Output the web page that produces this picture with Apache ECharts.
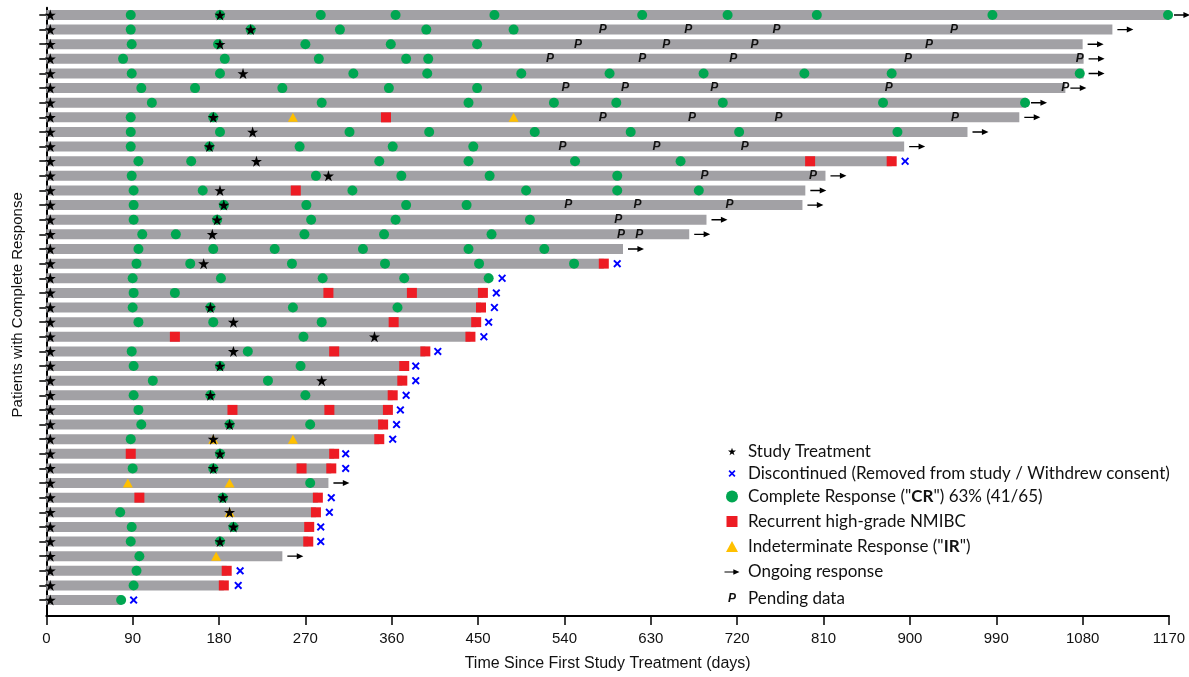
<!DOCTYPE html>
<html>
<head>
<meta charset="utf-8">
<script src="https://cdn.jsdelivr.net/npm/echarts@6/dist/echarts.min.js"></script>
<style>
  html, body { margin: 0; padding: 0; background: #fff; }
  #chart { width: 1189px; height: 677px; }
</style>
</head>
<body>
<div id="chart"></div>
<script>
// ---- Data: one entry per patient row (row 0 = top), times in days ----
const barEnds = [1170, 1111, 1080, 1081, 1081, 1062, 1021, 1014, 960, 894, 881, 812, 791, 788, 688, 670,
  601, 581, 462, 455, 453, 448, 442, 395, 373, 371, 361, 356, 351, 347, 300, 297, 294, 283, 281, 274,
  273, 246, 188, 185, 78];

const ongoingRows = [0, 1, 2, 3, 4, 5, 6, 7, 8, 9, 11, 12, 13, 14, 15, 16, 32, 37];

const crDays = [
  [88, 181, 286, 364, 467, 621, 710, 803, 986, 1169],
  [88, 213, 306, 396, 487],
  [89, 179, 270, 359, 449],
  [80, 186, 284, 375, 398],
  [89, 181, 320, 397, 495, 587, 685, 790, 881, 1077],
  [99, 155, 246, 357, 449],
  [110, 287, 440, 529, 594, 705, 872, 1020],
  [88, 174],
  [88, 181, 316, 399, 509, 609, 722, 887],
  [88, 170, 264, 361, 445],
  [96, 151, 347, 440, 551, 661],
  [89, 281, 370, 462, 595],
  [91, 163, 319, 500, 595, 680],
  [91, 185, 271, 375, 438],
  [91, 178, 276, 364, 504],
  [100, 135, 269, 352, 464],
  [96, 174, 238, 330, 440, 519],
  [94, 150, 256, 353, 451, 550],
  [90, 182, 288, 373, 461],
  [91, 134],
  [90, 171, 257, 366],
  [96, 174, 287],
  [268],
  [89, 210],
  [91, 181, 265],
  [111, 231],
  [91, 171, 270],
  [96],
  [99, 191, 275],
  [88],
  [181],
  [90, 174],
  [275],
  [184],
  [77],
  [89, 195],
  [88, 181],
  [97],
  [94],
  [91],
  [78]
];

// study treatment doses after day 0 (every row also has a dose at day 0)
const treatmentDays = [
  [181], [213], [181], [], [205], [], [], [174], [215], [170], [219], [294], [181], [185], [178], [173],
  [], [164], [], [], [171], [195], [342], [195], [181], [287], [171], [], [191], [174], [181], [174],
  [], [184], [191], [195], [181], [], [], [], []
];

const recurrenceDays = [
  [], [], [], [], [], [], [], [354], [], [], [796, 881], [], [260], [], [], [],
  [], [581], [], [294, 381, 455], [453], [362, 448], [134, 442], [300, 395], [373], [371], [361],
  [194, 295, 356], [351], [347], [88, 300], [266, 297], [], [97, 283], [281], [274], [273], [], [188], [185], []
];

const indeterminateDays = [
  [], [], [], [], [], [], [], [257, 487], [], [], [], [], [], [], [], [],
  [], [], [], [], [], [], [], [], [], [], [], [], [], [174, 257], [], [], [85, 191], [], [191], [], [], [177], [], [], []
];

const discontinuedDay = [
  null, null, null, null, null, null, null, null, null, null, 895, null, null, null, null, null,
  null, 595, 475, 469, 467, 461, 456, 408, 385, 385, 375, 369, 365, 361, 312, 312, null, 297, 295, 286,
  286, null, 202, 200, 91
];

const pendingDays = [
  [], [580, 669, 761, 946], [554, 646, 738, 920], [525, 621, 716, 898, 1077], [], [541, 603, 696, 878, 1062],
  [], [580, 673, 763, 947], [], [538, 636, 728], [], [686, 799], [], [544, 616, 712], [596], [599, 618],
  [], [], [], [], [], [], [], [], [], [], [], [], [], [], [], [], [], [], [], [], [], [], [], [], []
];

const rowIndex = barEnds.map((_, i) => i);

// ---- Names used by series and legend ----
const N_TREAT = 'Study Treatment';
const N_DISC = 'Discontinued (Removed from study / Withdrew consent)';
const N_CR = 'Complete Response ("CR") 63% (41/65)';
const N_REC = 'Recurrent high-grade NMIBC';
const N_IR = 'Indeterminate Response ("IR")';
const N_ONGO = 'Ongoing response';
const N_PEND = 'Pending data';

// ---- Style ----
const C_BAR = '#A2A1A5';
const C_CR = '#00A651';
const C_REC = '#ED1C24';
const C_IR = '#FFC000';
const C_DISC = '#0000FF';
const AXIS_FONT = 'Liberation Sans, Arial, sans-serif';
const LEGEND_FONT = 'Lato, "Open Sans", sans-serif';

const STAR = 'path://M50,0 L61.8,35.1 L98.9,35.1 L68.9,56.8 L80.2,91.9 L50,70.2 L19.8,91.9 L31.1,56.8 L1.1,35.1 L38.2,35.1 Z';
const CROSS = 'path://M0,1.7 L1.7,0 L5,3.3 L8.3,0 L10,1.7 L6.7,5 L10,8.3 L8.3,10 L5,6.7 L1.7,10 L0,8.3 L3.3,5 Z';
const ARROW = 'path://M0,2.3 L10,2.3 L10,0 L17,3 L10,6 L10,3.7 L0,3.7 Z';

const toPoints = lists => lists.flatMap((days, row) => days.map(d => [d, row]));

// day-0 doses sit just right of the axis line
const treatmentPoints = rowIndex.map(r => ({ value: [0, r], symbolOffset: [4, 0] }))
  .concat(toPoints(treatmentDays));

const discPoints = discontinuedDay
  .map((d, row) => (d === null ? null : [d, row]))
  .filter(p => p !== null);

const ongoingPoints = ongoingRows.map(r => [barEnds[r], r]);

function scatter(name, data, symbol, size, color, z, extra) {
  return Object.assign({
    type: 'scatter', name, data, symbol, symbolSize: size,
    itemStyle: { color, opacity: 1 }, z, clip: false, silent: true
  }, extra || {});
}

const series = [
  {
    type: 'custom', name: 'bars', silent: true, z: 1, clip: false,
    data: barEnds.map((e, r) => [e, r]),
    encode: { x: 0, y: 1 },
    renderItem(params, api) {
      const row = api.value(1);
      const a = api.coord([0, row]);
      const b = api.coord([api.value(0), row]);
      return {
        type: 'rect',
        shape: { x: a[0], y: a[1] - 5, width: b[0] - a[0], height: 10 },
        style: { fill: C_BAR }
      };
    }
  },
  scatter(N_CR, toPoints(crDays), 'circle', 10, C_CR, 3),
  scatter(N_REC, toPoints(recurrenceDays), 'rect', 10, C_REC, 3),
  scatter(N_IR, toPoints(indeterminateDays), 'triangle', [10, 9], C_IR, 3),
  scatter(N_DISC, discPoints, CROSS, 8, C_DISC, 3),
  scatter(N_ONGO, ongoingPoints, ARROW, [16, 6], '#000', 3, { symbolOffset: [13, 0] }),
  scatter(N_PEND, toPoints(pendingDays), 'circle', 1, 'rgba(0,0,0,0)', 4, {
    label: {
      show: true, position: 'inside', formatter: 'P',
      fontFamily: 'Liberation Sans, Arial, sans-serif', fontSize: 12,
      fontWeight: 'bold', fontStyle: 'italic', color: '#111'
    }
  }),
  scatter(N_TREAT, treatmentPoints, STAR, 11, '#000', 5)
];

// ---- Legend: one block per entry so each key keeps its own size ----
const LEG_ICON_X = 732;
const LEG_TEXT_X = 748;
const legendEntries = [
  { name: N_TREAT, icon: STAR, w: 8, h: 8, cy: 447, text: '{t|Study Treatment}' },
  { name: N_DISC, icon: CROSS, w: 7, h: 7, cy: 468.5, text: '{t|Discontinued (Removed from study / Withdrew consent)}' },
  { name: N_CR, icon: 'circle', w: 12, h: 12, cy: 494, text: '{t|Complete Response ("}{b|CR}{n|") 63% (41/65)}' },
  { name: N_REC, icon: 'rect', w: 11, h: 11, cy: 518.5, text: '{t|Recurrent high-grade NMIBC}' },
  { name: N_IR, icon: 'triangle', w: 12, h: 11, cy: 543.5, text: '{t|Indeterminate Response ("}{b|IR}{n|")}' },
  { name: N_ONGO, icon: ARROW, w: 15, h: 6, cy: 566.5, text: '{t|Ongoing response}' },
  { name: N_PEND, icon: 'none', w: 1, h: 10, cy: 595, text: '{p|P}{q|Pending data}', pendingKey: true }
];

const baseText = { fontFamily: LEGEND_FONT, fontSize: 17, color: '#111' };
const legends = legendEntries.map(e => {
  const left = e.pendingKey ? LEG_ICON_X - 10 : LEG_ICON_X - e.w / 2;
  const textStart = left + e.w + 5;
  const pad = Math.max(0, LEG_TEXT_X - textStart);
  return {
    orient: 'vertical', padding: 0, itemGap: 0, selectedMode: false,
    left, top: e.cy - e.h / 2, itemWidth: e.w, itemHeight: e.h,
    data: [{ name: e.name, icon: e.icon }],
    formatter: () => e.text,
    textStyle: Object.assign({}, baseText, {
      rich: {
        t: Object.assign({}, baseText, { padding: [0, 0, 0, pad] }),
        n: Object.assign({}, baseText),
        b: Object.assign({}, baseText, { fontWeight: 'bold' }),
        p: { fontFamily: 'Liberation Sans, Arial, sans-serif', fontSize: 12, fontWeight: 'bold', fontStyle: 'italic', color: '#111', width: 8, align: 'center' },
        q: Object.assign({}, baseText, { padding: [0, 0, 0, LEG_TEXT_X - (left + e.w + 5 + 8)] })
      }
    })
  };
});

const option = {
  animation: false,
  backgroundColor: '#fff',
  grid: { left: 46.3, right: 20, top: 7.65, bottom: 58, containLabel: false },
  xAxis: {
    type: 'value', min: 0, max: 1170, interval: 90,
    name: 'Time Since First Study Treatment (days)',
    nameLocation: 'middle', nameGap: 40,
    nameTextStyle: { fontFamily: AXIS_FONT, fontSize: 16, color: '#111' },
    axisLine: { show: true, onZero: false, lineStyle: { color: '#000', width: 2 } },
    axisTick: { show: true, length: 9, lineStyle: { color: '#000', width: 1.5 } },
    axisLabel: { fontFamily: AXIS_FONT, fontSize: 15, color: '#111', margin: 15, formatter: v => String(v) },
    splitLine: { show: false }
  },
  yAxis: {
    type: 'value', inverse: true, min: -0.5, max: 41.09,
    name: 'Patients with Complete Response',
    nameLocation: 'middle', nameGap: 21,
    nameTextStyle: { fontFamily: AXIS_FONT, fontSize: 15, color: '#111', padding: [0, 0, 0, 14] },
    axisLine: { show: true, onZero: false, lineStyle: { color: '#000', width: 2 } },
    axisTick: { show: true, length: 7, customValues: rowIndex, lineStyle: { color: '#000', width: 1.5 } },
    axisLabel: { show: false },
    splitLine: { show: false }
  },
  legend: legends,
  series
};

const chart = echarts.init(document.getElementById('chart'), null, { renderer: 'canvas' });
chart.setOption(option);
</script>
</body>
</html>
